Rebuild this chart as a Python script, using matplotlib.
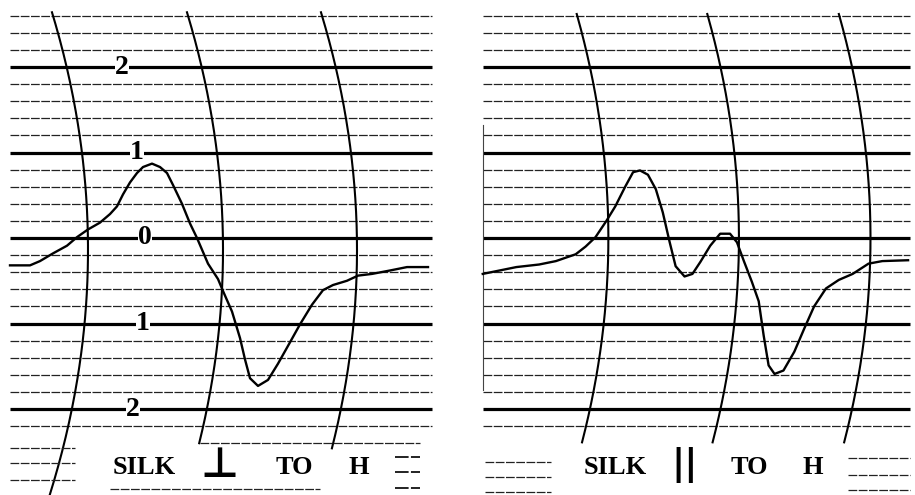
import numpy as np
import matplotlib
matplotlib.use("Agg")
import matplotlib.pyplot as plt

# recorder trace, left panel: SILK perpendicular to H
left_x = [10, 30, 40, 53, 67, 77, 88, 100, 110, 117, 123, 130, 137, 143, 152, 160, 167,
          173, 182, 190, 197, 208, 218, 223, 232, 240, 245, 250, 258, 268, 278, 290,
          300, 312, 323, 333, 347, 358, 372, 390, 407, 428]
left_y = [-0.32, -0.32, -0.27, -0.18, -0.09, 0.01, 0.10, 0.18, 0.28, 0.37, 0.51, 0.65,
          0.76, 0.83, 0.87, 0.83, 0.76, 0.62, 0.40, 0.17, 0.00, -0.30, -0.48, -0.62,
          -0.86, -1.17, -1.42, -1.64, -1.73, -1.66, -1.47, -1.22, -1.01, -0.78, -0.61,
          -0.55, -0.50, -0.44, -0.42, -0.38, -0.34, -0.34]

# right panel: SILK parallel to H
right_x = [23, 40, 57, 80, 97, 117, 127, 137, 148, 157, 167, 175, 182, 190, 198, 205,
           212, 218, 227, 235, 243, 253, 263, 273, 280, 287, 295, 302, 307, 312, 318,
           327, 338, 348, 358, 370, 383, 397, 413, 427, 453]
right_y = [-0.42, -0.38, -0.34, -0.31, -0.27, -0.19, -0.10, 0.01, 0.20, 0.37, 0.60,
           0.77, 0.79, 0.74, 0.57, 0.30, -0.05, -0.33, -0.45, -0.42, -0.28, -0.09, 0.05,
           0.05, -0.05, -0.27, -0.51, -0.74, -1.14, -1.49, -1.59, -1.55, -1.33, -1.06,
           -0.80, -0.59, -0.49, -0.42, -0.30, -0.27, -0.26]

scale_labels = ["2", "1", "0", "1", "2"]
scale_values = [2, 1, 0, -1, -2]

PX = 85.5            # pixels per unit on the paper
R = 784.0            # radius of the timing arcs, in pixels
YLIM = ((238 - 495) / PX, 238 / PX)

fig = plt.figure(figsize=(9.15, 4.95), dpi=100)
fig.patch.set_facecolor("white")


def paper(ax, x0, x1, arcs, vc, arc_top, arc_ends):
    ax.set_xlim(0, 460)
    ax.set_ylim(*YLIM)
    ax.axis("off")
    # fine chart lines, heavy every unit
    for k in range(-11, 14):
        v = k * 0.2
        if k % 5 == 0:
            ax.plot([x0, x1], [v, v], color="black", lw=2.3, solid_capstyle="butt")
        else:
            ax.plot([x0, x1], [v, v], color="#222222", lw=0.9,
                    linestyle=(0, (7, 1.2)))
    # timing arcs
    for xm, end in zip(arcs, arc_ends):
        vv = np.linspace(end, arc_top, 200)
        xx = xm - ((vv - vc) * PX) ** 2 / (2 * R)
        ax.plot(xx, vv, color="black", lw=1.5)


def stubs(ax, xa, xb, levels, lw=0.9):
    for v in levels:
        ax.plot([xa, xb], [v, v], color="#222222", lw=lw, linestyle=(0, (7, 1.2)))


# ---- left panel
axl = fig.add_axes([0, 0, 460 / 915, 1])
paper(axl, 10, 432, [88, 223, 357], -0.14, 2.64, [YLIM[0], -2.40, -2.46])
stubs(axl, 200, 420, [-2.40])
stubs(axl, 10, 75, [-2.46, -2.63, -2.83])
stubs(axl, 395, 420, [-2.56, -2.74, -2.92], lw=1.4)
stubs(axl, 110, 320, [-2.94])
axl.plot(left_x, left_y, color="black", lw=1.7, solid_joinstyle="round")
num_x = [122, 137, 145, 143, 133]
for xn, v, s in zip(num_x, scale_values, scale_labels):
    axl.text(xn, v, s, ha="center", va="center", fontsize=20, fontweight="bold",
             family="Liberation Serif",
             bbox=dict(facecolor="white", edgecolor="none", pad=0.2))
for xt, s in zip([144, 294, 359], ["SILK", "TO", "H"]):
    axl.text(xt, -2.68, s, ha="center", va="center", fontsize=19, fontweight="bold",
             family="Liberation Serif")
axl.text(219, -2.66, "⊥", ha="center", va="center", fontsize=30, fontweight="bold",
         family="DejaVu Sans")

# ---- right panel
axr = fig.add_axes([460 / 915, 0, 455 / 915, 1])
paper(axr, 23, 455, [150, 282, 415], 0.0, 2.62, [-2.39, -2.39, -2.39])
stubs(axr, 25, 92, [-2.62, -2.80, -2.97])
stubs(axr, 392, 455, [-2.57, -2.77, -2.95])
axr.plot([23, 23], [-1.78, 1.32], color="#444444", lw=0.8)
axr.plot(right_x, right_y, color="black", lw=1.7, solid_joinstyle="round")
for xt, s in zip([157, 292, 357], ["SILK", "TO", "H"]):
    axr.text(xt, -2.68, s, ha="center", va="center", fontsize=19, fontweight="bold",
             family="Liberation Serif")
axr.text(227, -2.66, "||", ha="center", va="center", fontsize=26, fontweight="bold",
         style="italic", family="DejaVu Sans")

fig.savefig("out.png", dpi=100, facecolor="white")
